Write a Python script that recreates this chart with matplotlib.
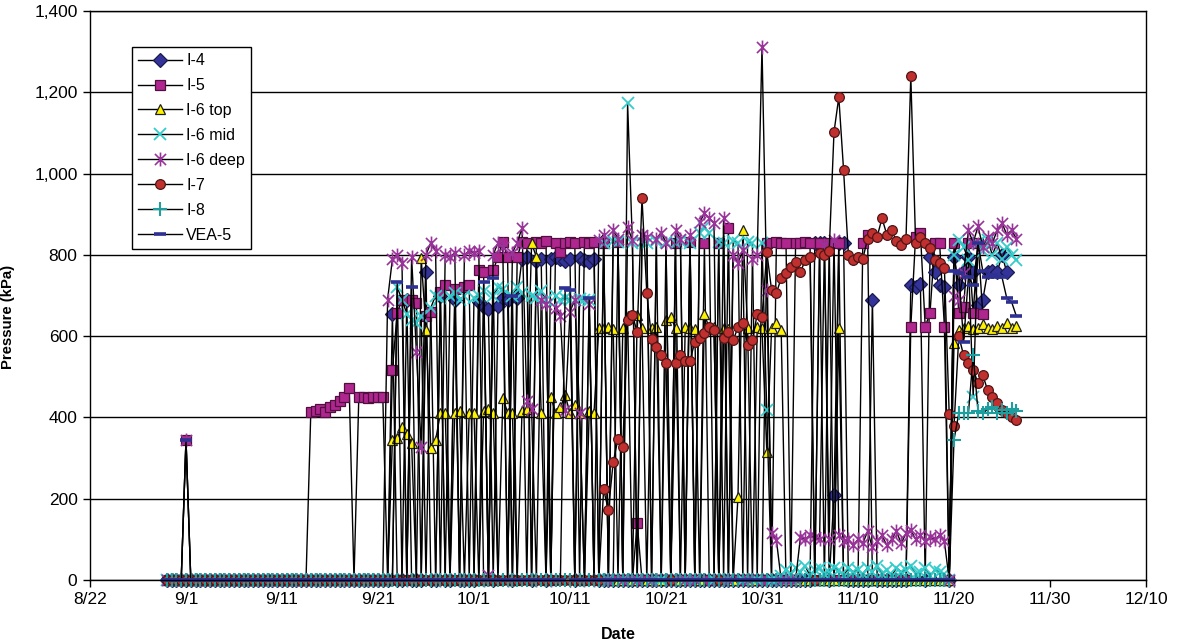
import numpy as np
import pandas as pd
import matplotlib
matplotlib.use('Agg')
import matplotlib.pyplot as plt
from matplotlib.ticker import FuncFormatter
from matplotlib.lines import Line2D
from matplotlib.path import Path

plt.rcParams['font.family'] = ['Liberation Sans', 'DejaVu Sans']

N = np.nan

# readings every 12 h from 8/30 to 11/27 (179 readings), blocks of 10 days
i4 = ([0] * 4 + [0] * 20 + [0] * 20
      + [0, 0, 0, 655, 0, 0, 690, 0, 0, 0, 757, 0, 0, 700, 0, 0, 690, 0, 0, 0]
      + [0, 685, 672, 668, 0, 675, 694, 690, 0, 694, 790, 795, 0, 785, 790, 0, 790, 795, 790, 785]
      + [790, 0, 792, 788, 782, 790] + [0] * 14
      + [0] * 20
      + [0] * 10 + [0, 828, 830, 828, 0, 210, 828, 830, 0, 0]
      + [0, 0, 0, 690, 0, 0, 0, 0, 0, 0, 0, 725, 722, 728, 0, 795, 757, 725, 722, 0]
      + [795, 725, 760, 795, 757, 676, 690, 757, 760, 757, 800, 757, N, N, N])

i5 = ([0] * 4 + [345] + [0] * 19
      + [0] * 6 + [413, 415, 420, 413, 425, 430, 440, 450, 472, 0, 450, 450, 448, 450]
      + [450, 450, 0, 517, 657, 690, 0, 689, 681, 0, 650, 660, 0, 708, 725, 0, 715, 0, 720, 725]
      + [0, 762, 757, 0, 762, 795, 832, 795, 0, 795, 832, 830, 0, 832, 828, 835, 0, 830, 807, 830]
      + [832, 830, 0, 832, 830, 832, 0, 830, 0, 0, 832, 0, 0, 0, 140, 0, 0, 0, 0, 0]
      + [0, 0, 830, 0, 0, 832, 0, 0, 828, 0, 0, 830, 0, 866, 0, 0, 0, 0, 0, 0]
      + [0, 830, 0, 832, 829, 830, 0, 829, 830, 832, 829, 0, 830, 0, 829, 0, 830, 0, 0, 0]
      + [0, 829, 848, 0, 0, 0, 0, 0, 0, 0, 0, 623, 845, 855, 623, 657, 829, 829, 623, 0]
      + [830, 657, 672, 830, 657, 830, 655, N, N, N, N, N, N, N, N])

i6_top = ([0] * 4 + [0] * 20 + [0] * 20
          + [0, 0, 0, 345, 350, 376, 360, 337, 0, 792, 615, 325, 344, 410, 412, 0, 410, 415, 0, 412]
          + [410, 0, 415, 420, 410, 0, 448, 412, 410, 0, 415, 420, 828, 795, 410, 0, 450, 412, 425, 455]
          + [410, 430, 412, 0, 415, 410, 620, 620, 622, 618, 0, 620, 650, 0, 652, 620, 0, 620, 622, 0]
          + [640, 647, 620, 0, 622, 620, 618, 0, 654, 620, 622, 0, 620, 618, 0, 205, 861, 620, 0, 622]
          + [620, 316, 620, 632, 615] + [0] * 11 + [620, 0, 0, 0]
          + [0] * 20
          + [583, 615, 620, 625, 618, 620, 630, 620, 618, 625, 620, 632, 620, 625, N])

i6_mid = ([0] * 4 + [0] * 20 + [0] * 20
          + [0, 0, 0, 0, 720, 690, 655, 640, 632, 650, 0, 670, 700, 695, 0, 700, 705, 690, 700, 0]
          + [695, 700, 710, 0, 700, 720, 715, 0, 700, 720, 705, 0, 700, 695, 710, 690, 0, 700, 690, 695]
          + [690, 0, 692, 690, 688, 0, 0, 830, 0, 835, 832, 0, 1173, 830, 0, 832, 830, 0, 835, 0]
          + [832, 0, 830, 835, 0, 830, 0, 853, 868, 855, 0, 832, 830, 0, 835, 830, 0, 832, 828, 0]
          + [830, 418, 0, 0, 10, 25, 15, 30, 20, 35, 10, 25, 30, 15, 20, 30, 25, 10, 30, 20]
          + [25, 15, 30, 20, 35, 15, 25, 10, 30, 20, 25, 35, 15, 20, 30, 10, 25, 20, 15, 0]
          + [800, 836, 820, 787, 450, 830, 810, 836, 800, 830, 790, 820, 800, 787, N])

i6_deep = ([0] * 4 + [345] + [0] * 19 + [0] * 20
           + [0, 0, 690, 790, 800, 780, 0, 795, 561, 327, 800, 830, 810, 0, 800, 795, 805, 0, 800, 810]
           + [805, 810, 0, 12, 800, 830, 820, 0, 805, 830, 866, 440, 420, 0, 690, 680, 0, 670, 650, 418]
           + [660, 690, 410, 0, 680, 0, 836, 850, 0, 860, 840, 0, 868, 836, 0, 850, 845, 0, 840, 855]
           + [830, 0, 860, 840, 0, 850, 0, 880, 902, 890, 878, 0, 890, 0, 800, 780, 811, 0, 790, 800]
           + [1311, 713, 115, 98, 0, 0, 0, 0, 105, 100, 110, 105, 100, 825, 100, 837, 110, 95, 100, 85]
           + [100, 90, 120, 80, 95, 110, 85, 100, 120, 90, 115, 123, 100, 110, 95, 105, 100, 110, 95, 0]
           + [700, 690, 755, 860, 830, 870, 820, 845, 830, 860, 878, 850, 860, 840, N])

i7 = ([0] * 4 + [0] * 20 + [0] * 20 + [0] * 20 + [0] * 20
      + [0] * 7 + [223, 172, 290, 347, 327, 640, 652, 610, 940, 706, 593, 573, 553]
      + [534, 0, 534, 553, 539, 539, 586, 595, 607, 622, 615, 0, 595, 610, 590, 622, 632, 578, 590, 654]
      + [647, 807, 713, 706, 743, 755, 770, 782, 757, 787, 795, 0, 804, 800, 810, 1102, 1188, 1008, 800, 787]
      + [795, 790, 840, 855, 845, 890, 850, 860, 835, 825, 840, 1240, 830, 845, 830, 816, 787, 780, 767, 408]
      + [379, 600, 553, 534, 517, 485, 504, 467, 450, 435, 418, 410, 400, 393, N])

i8 = ([0] * 164
      + [345, 410, 412, 410, 553, 415, 410, 420, 425, 412, 418, 410, 420, 415, N])

vea5 = ([0] * 4 + [345] + [0] * 19 + [0] * 20
        + [0, 0, 0, 0, 733, 0, 0, 720] + [0] * 12
        + [0, 0, 733, 0, 742, 0, 0, 0, 700] + [0] * 10 + [718]
        + [713, 0, 0, 0, 693, 0] + [0] * 14
        + [0] * 20 + [0] * 20 + [0] * 20
        + [760, 755, 585, 745, 725, 829, 760, 745, 750, 745, 745, 693, 684, 649, N])

series_names = ['I-4', 'I-5', 'I-6 top', 'I-6 mid', 'I-6 deep', 'I-7', 'I-8', 'VEA-5']
series_values = [i4, i5, i6_top, i6_mid, i6_deep, i7, i8, vea5]

tick_dates = ['2003-08-22', '2003-09-01', '2003-09-11', '2003-09-21', '2003-10-01', '2003-10-11',
              '2003-10-21', '2003-10-31', '2003-11-10', '2003-11-20', '2003-11-30', '2003-12-10']
tick_labels = ['8/22', '9/1', '9/11', '9/21', '10/1', '10/11',
               '10/21', '10/31', '11/10', '11/20', '11/30', '12/10']

times = pd.date_range('2003-08-30', periods=179, freq='12h')

# Excel style asterisk: an x with a vertical bar through it
star = Path([(-1, -1), (1, 1), (-1, 1), (1, -1), (0, -1.25), (0, 1.25)],
            [Path.MOVETO, Path.LINETO] * 3)

# marker, size, edge width, face colour, edge colour
styles = [
    ('D', 7.0, 0.9, '#333399', '#1a1a50'),
    ('s', 6.5, 0.9, '#B0268F', '#50103f'),
    ('^', 7.5, 0.9, '#FFF200', '#202020'),
    ('x', 8.5, 1.3, None, '#33CCCC'),
    (star, 10.0, 1.2, None, '#993399'),
    ('o', 7.0, 0.9, '#C0302F', '#501515'),
    ('+', 10.5, 1.5, None, '#1E9E9E'),
    ('_', 8.0, 2.6, None, '#2E3192'),
]

fig = plt.figure(figsize=(11.77, 6.43), dpi=100)
ax = fig.add_axes([90 / 1177, 63 / 643, 1056 / 1177, 569 / 643])

handles = []
for name, vals, (mk, ms, mew, fc, ec) in zip(series_names, series_values, styles):
    vals = np.array(vals, dtype=float)
    assert len(vals) == len(times), name
    kw = dict(marker=mk, markersize=ms, markeredgecolor=ec, markeredgewidth=mew)
    if fc is not None:
        kw['markerfacecolor'] = fc
    ax.plot(times, vals, color='black', lw=1.0, clip_on=False, **kw)
    handles.append(Line2D([], [], color='black', lw=1.0, **kw))

ax.set_xlim(pd.Timestamp(tick_dates[0]), pd.Timestamp(tick_dates[-1]))
ax.set_xticks([pd.Timestamp(d) for d in tick_dates])
ax.set_xticklabels(tick_labels)
ax.set_ylim(0, 1400)
ax.set_yticks(range(0, 1401, 200))
ax.yaxis.set_major_formatter(FuncFormatter(lambda v, p: f'{int(v):,}'))

ax.yaxis.grid(True, color='black', lw=1.0)
ax.set_axisbelow(True)
for s in ax.spines.values():
    s.set_color('black')
    s.set_linewidth(1.0)
ax.tick_params(direction='out', length=5, width=1, labelsize=12.5, pad=4)

ax.set_ylabel('Pressure (kPa)', fontsize=10.7, fontweight='bold')
ax.yaxis.set_label_coords(-0.071, 0.462)
ax.set_xlabel('Date', fontsize=11.5, fontweight='bold', labelpad=14)

leg = ax.legend(handles, series_names, loc='upper left', bbox_to_anchor=(0.0398, 0.937),
                borderaxespad=0, fontsize=11.5, frameon=True, fancybox=False, framealpha=1,
                edgecolor='black', handlelength=2.7, handletextpad=0.3,
                labelspacing=0.62, borderpad=0.4)
leg.get_frame().set_linewidth(1.0)

fig.savefig('out.png', dpi=100)
